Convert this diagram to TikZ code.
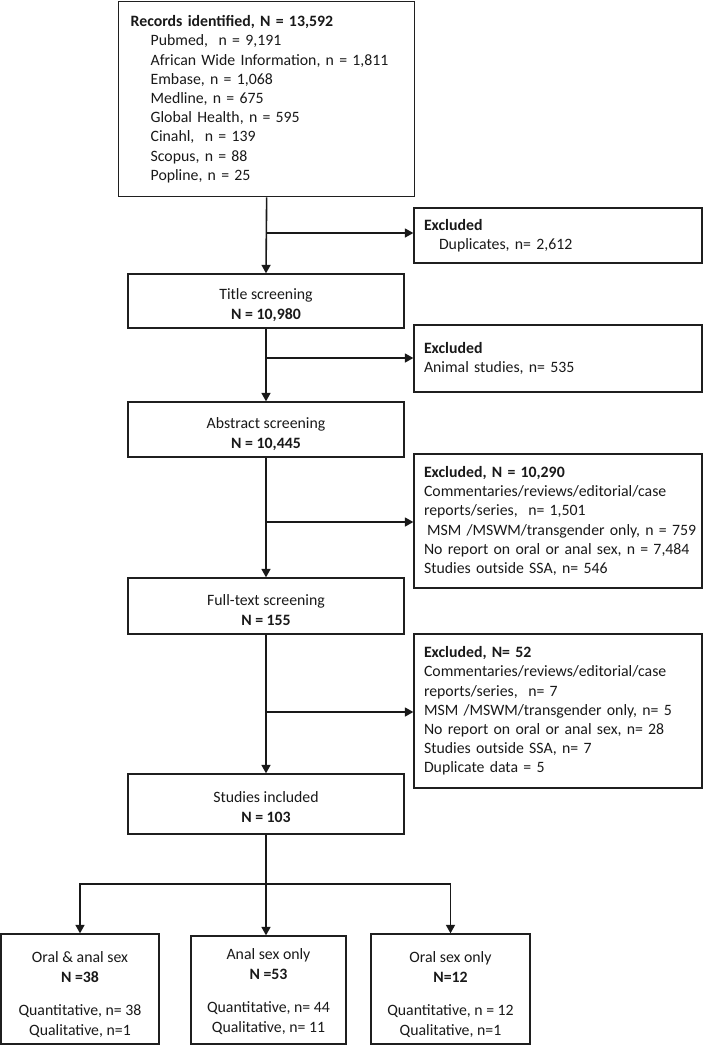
\documentclass[tikz,border=0pt]{standalone}
\usepackage{fontspec}
\setmainfont{Carlito}
\usetikzlibrary{arrows.meta}
\begin{document}
\begin{tikzpicture}[x=1pt,y=-1pt,
  base/.style={draw=black!88, line width=1.3pt, rectangle, inner sep=0pt,
    font={\fontsize{15.8}{19.2}\selectfont}, text=black!90},
  lbox/.style={base, align=left},
  cbox/.style={base, align=center, font={\fontsize{15.8}{20}\selectfont}},
  bbox/.style={cbox, font={\fontsize{15.8}{20.2}\selectfont}},
  conn/.style={draw=black!90, line width=1.6pt},
  arr/.style={conn, -{Triangle[length=8.5pt,width=9pt]}}]
\useasboundingbox (0,0) rectangle (710,1045);

% main column
\node[lbox, anchor=north west, minimum width=296pt, minimum height=195pt, text width=272pt] (top) at (118,1)
 {\textbf{Records identified, N = 13,592}\\
  \hspace*{20pt}Pubmed,\ \ n = 9,191\\
  \hspace*{20pt}African Wide Information, n = 1,811\\
  \hspace*{20pt}Embase, n = 1,068\\
  \hspace*{20pt}Medline, n = 675\\
  \hspace*{20pt}Global Health, n = 595\\
  \hspace*{20pt}Cinahl,\ \ n = 139\\
  \hspace*{20pt}Scopus, n = 88\\
  \hspace*{20pt}Popline, n = 25};

\node[cbox, minimum width=276pt, minimum height=54pt] (title) at (266,301)
 {\rule{0pt}{20pt}Title screening\\\textbf{N = 10,980}};
\node[cbox, minimum width=276pt, minimum height=55pt] (abs) at (266,429.5)
 {\rule{0pt}{20pt}Abstract screening\\\textbf{N = 10,445}};
\node[cbox, minimum width=276pt, minimum height=56pt] (full) at (266,606)
 {\rule{0pt}{20pt}Full-text screening\\\textbf{N = 155}};
\node[cbox, minimum width=276pt, minimum height=60pt] (incl) at (266,804)
 {\rule{0pt}{18pt}Studies included\\\textbf{N = 103}};

% excluded boxes
\node[lbox, minimum width=288pt, minimum height=55pt, text width=268pt] (ex1) at (558,235.5)
 {\textbf{Excluded}\\\hspace*{15pt}Duplicates, n= 2,612};
\node[lbox, minimum width=288pt, minimum height=67pt, text width=268pt] (ex2) at (558,358.5)
 {\textbf{Excluded}\\Animal studies, n= 535};
\node[lbox, minimum width=288pt, minimum height=134pt, text width=268pt] (ex3) at (558,521)
 {\textbf{Excluded, N = 10,290}\\
  Commentaries/reviews/editorial/case\\
  reports/series,\ \ n= 1,501\\
  \mbox{\hspace*{3pt}MSM /MSWM/transgender only, n = 759}\\
  No report on oral or anal sex, n = 7,484\\
  Studies outside SSA, n= 546};
\node[lbox, minimum width=288pt, minimum height=154pt, text width=268pt] (ex4) at (558,711)
 {\textbf{Excluded, N= 52}\\
  Commentaries/reviews/editorial/case\\
  reports/series,\ \ n= 7\\
  MSM /MSWM/transgender only, n= 5\\
  No report on oral or anal sex, n= 28\\
  Studies outside SSA, n= 7\\
  Duplicate data = 5};

% bottom boxes
\node[bbox, minimum width=158pt, minimum height=110pt] (oa) at (80,989)
 {\rule{0pt}{22pt}Oral \& anal sex\\\textbf{N =38}\\[13pt]Quantitative, n= 38\\Qualitative, n=1};
\node[bbox, minimum width=155pt, minimum height=108pt] (ao) at (268.5,990)
 {\rule{0pt}{14pt}Anal sex only\\\textbf{N =53}\\[13pt]Quantitative, n= 44\\Qualitative, n= 11};
\node[bbox, minimum width=159pt, minimum height=110pt] (os) at (450.5,989)
 {\rule{0pt}{22pt}Oral sex only\\\textbf{N=12}\\[13pt]Quantitative, n = 12\\Qualitative, n=1};

% connectors
\draw[arr] (top.south) -- (title.north);
\draw[arr] (title.south) -- (abs.north);
\draw[arr] (abs.south) -- (full.north);
\draw[arr] (full.south) -- (incl.north);

\coordinate (j1) at (266,233);
\coordinate (j2) at (266,358);
\coordinate (j3) at (266,522);
\coordinate (j4) at (266,712);
\draw[arr] (j1) -- (j1 -| ex1.west);
\draw[arr] (j2) -- (j2 -| ex2.west);
\draw[arr] (j3) -- (j3 -| ex3.west);
\draw[arr] (j4) -- (j4 -| ex4.west);

\coordinate (jb) at (266,884);
\draw[arr] (incl.south) -- (incl.south |- ao.north);
\draw[arr] (jb) -| (oa.north);
\draw[arr] (jb) -| (os.north);
\end{tikzpicture}
\end{document}
